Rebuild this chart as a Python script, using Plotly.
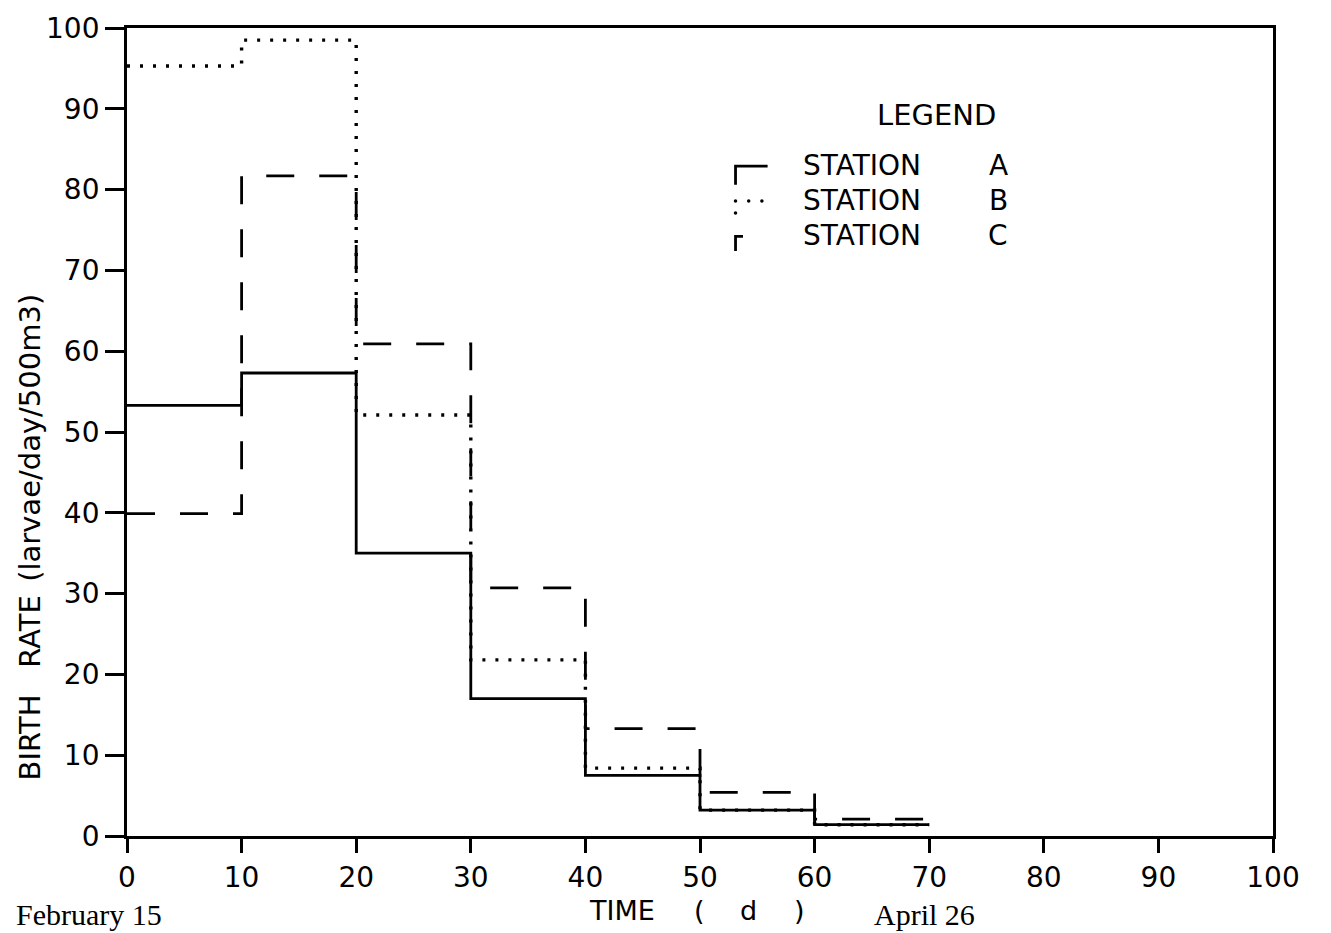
import plotly.graph_objects as go

# ---- data ----
days = [0, 10, 20, 30, 40, 50, 60, 70]
station_a = [53.3, 57.3, 35.0, 17.0, 7.5, 3.2, 1.4]
station_b = [95.3, 98.5, 52.1, 21.8, 8.4, 3.2, 1.4]
station_c = [39.9, 81.7, 60.9, 30.7, 13.3, 5.4, 2.1]
tick_vals = [0, 10, 20, 30, 40, 50, 60, 70, 80, 90, 100]
tick_text = ["0", "10", "20", "30", "40", "50", "60", "70", "80", "90", "100"]

FONT = "DejaVu Sans"
SERIF = "Liberation Serif"
LW = 2.8

# plot-area geometry in pixels (used only to place text)
L, R, T, B = 127, 58, 22, 97
PW, PH = 1331 - L - R, 933 - T - B

def px(xp):
    return (xp - L) / PW

def py(yp):
    return (933 - B - yp) / PH

def step(vals):
    return vals + [vals[-1]]

fig = go.Figure()
fig.add_trace(go.Scatter(x=days, y=step(station_c), mode="lines", line_shape="hv",
                         line=dict(color="black", width=LW, dash="28px,25px"), showlegend=False))
fig.add_trace(go.Scatter(x=days, y=step(station_b), mode="lines", line_shape="hv",
                         line=dict(color="black", width=LW + 0.6, dash="3px,10px"), showlegend=False))
fig.add_trace(go.Scatter(x=days, y=step(station_a), mode="lines", line_shape="hv",
                         line=dict(color="black", width=LW), showlegend=False))

# legend glyphs (decorative)
fig.add_trace(go.Scatter(x=[53.1, 53.1, 55.9], y=[80.6, 82.9, 82.9], mode="lines",
                         line=dict(color="black", width=LW), showlegend=False))
fig.add_trace(go.Scatter(x=[53.1, 54.25, 55.4, 53.1], y=[78.6, 78.6, 78.6, 77.1], mode="markers",
                         marker=dict(color="black", size=3.5), showlegend=False))
fig.add_trace(go.Scatter(x=[53.1, 53.1, 53.75], y=[72.4, 74.2, 74.2], mode="lines",
                         line=dict(color="black", width=LW), showlegend=False))

legend_font = dict(family=FONT, size=28, color="black")
fig.add_annotation(x=px(936), y=py(110), xref="paper", yref="paper", text="LEGEND", showarrow=False,
                   font=dict(family=FONT, size=29, color="black"), xanchor="center", yanchor="middle")
for letter, yp in [("A", 161), ("B", 196), ("C", 231)]:
    fig.add_annotation(x=px(801), y=py(yp), xref="paper", yref="paper", text="STATION",
                       showarrow=False, font=legend_font, xanchor="left", yanchor="middle")
    fig.add_annotation(x=px(998), y=py(yp), xref="paper", yref="paper", text=letter,
                       showarrow=False, font=legend_font, xanchor="center", yanchor="middle")

# y-axis title: each word starts where it starts in the original
title_font = dict(family=FONT, size=29, color="black")
for word, yp in [("BIRTH", 782), ("RATE", 669), ("(larvae/day/500m3)", 582)]:
    fig.add_annotation(x=px(30), y=py(yp), xref="paper", yref="paper", text=word, textangle=-90,
                       showarrow=False, font=title_font, xanchor="center", yanchor="bottom")

# x-axis title
for word, xp in [("TIME", 622), ("(", 699), ("d", 748), (")", 799)]:
    fig.add_annotation(x=px(xp), y=py(911), xref="paper", yref="paper", text=word,
                       showarrow=False, font=dict(family=FONT, size=27, color="black"),
                       xanchor="center", yanchor="middle")

serif_font = dict(family=SERIF, size=30, color="black")
fig.add_annotation(x=px(14), y=py(915), xref="paper", yref="paper", text="February 15",
                   showarrow=False, font=serif_font, xanchor="left", yanchor="middle")
fig.add_annotation(x=px(872), y=py(915), xref="paper", yref="paper", text="April 26",
                   showarrow=False, font=serif_font, xanchor="left", yanchor="middle")

axis_common = dict(showgrid=False, zeroline=False, showline=True, linecolor="black",
                   linewidth=2.8, mirror=True, ticks="outside", tickwidth=2.6,
                   tickcolor="black", tickvals=tick_vals, ticktext=tick_text,
                   tickfont=dict(family=FONT, size=28, color="black"), range=[0, 100])
fig.update_xaxes(**axis_common, ticklen=14)
fig.update_yaxes(**axis_common, ticklen=19)

fig.update_layout(width=1331, height=933, plot_bgcolor="white", paper_bgcolor="white",
                  margin=dict(l=L, r=R, t=T, b=B), showlegend=False)

fig.write_html("out.html")
